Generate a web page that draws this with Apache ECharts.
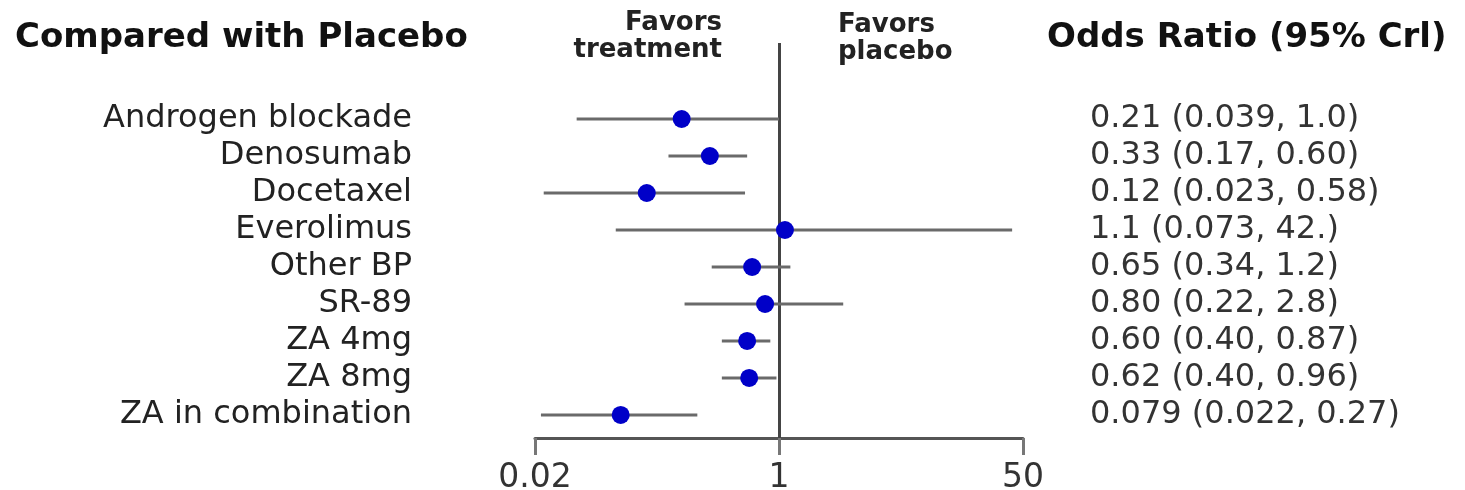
<!DOCTYPE html>
<html>
<head>
<meta charset="utf-8">
<script src="https://cdn.jsdelivr.net/npm/echarts@6/dist/echarts.min.js"></script>
<style>
  html, body { margin: 0; padding: 0; background: #ffffff; }
  #chart { width: 1465px; height: 490px; }
</style>
</head>
<body>
<div id="chart"></div>
<script>
// ---- data ----
const drugs = ['Androgen blockade', 'Denosumab', 'Docetaxel', 'Everolimus', 'Other BP', 'SR-89', 'ZA 4mg', 'ZA 8mg', 'ZA in combination'];
const oddsRatio = [0.21, 0.33, 0.12, 1.1, 0.65, 0.80, 0.60, 0.62, 0.079];
const lowerCrI = [0.039, 0.17, 0.023, 0.073, 0.34, 0.22, 0.40, 0.40, 0.022];
const upperCrI = [1.0, 0.60, 0.58, 42, 1.2, 2.8, 0.87, 0.96, 0.27];
const orText = ['0.21 (0.039, 1.0)', '0.33 (0.17, 0.60)', '0.12 (0.023, 0.58)', '1.1 (0.073, 42.)', '0.65 (0.34, 1.2)', '0.80 (0.22, 2.8)', '0.60 (0.40, 0.87)', '0.62 (0.40, 0.96)', '0.079 (0.022, 0.27)'];
const xTickValues = [0.02, 1, 50];
const leftHeader = 'Compared with Placebo';
const rightHeader = 'Odds Ratio (95% Crl)';
const favorsTreatment = 'Favors\ntreatment';
const favorsPlacebo = 'Favors\nplacebo';

// ---- build ----
const FONT = '"DejaVu Sans", "Liberation Sans", sans-serif';
const rowIdx = drugs.map((d, i) => i);
const xMin = Math.log10(xTickValues[0]);
const xMax = Math.log10(xTickValues[xTickValues.length - 1]);
const yMin = -2.054, yMax = 8.622;

const dotData = oddsRatio.map((v, i) => [Math.log10(v), i]);
const ciData = lowerCrI.map((lo, i) => [Math.log10(lo), Math.log10(upperCrI[i]), i]);

function tickFmt(v) {
  let best = 0, bd = Infinity;
  xTickValues.forEach((t, k) => { const d = Math.abs(Math.log10(t) - v); if (d < bd) { bd = d; best = k; } });
  return String(xTickValues[best]);
}

const chart = echarts.init(document.getElementById('chart'), null, { renderer: 'canvas' });
chart.setOption({
  animation: false,
  backgroundColor: '#ffffff',
  grid: { left: 535, right: 442, top: 43, bottom: 52, containLabel: false, outerBoundsMode: 'none' },
  xAxis: {
    type: 'value', min: xMin, max: xMax,
    axisLine: { show: true, onZero: false, lineStyle: { color: '#555', width: 3 } },
    axisTick: { show: true, length: 17, customValues: xTickValues.map(Math.log10), lineStyle: { color: '#777', width: 3 } },
    axisLabel: {
      show: true, customValues: xTickValues.map(Math.log10), formatter: tickFmt,
      margin: 24, fontSize: 33, fontFamily: FONT, color: '#333',
      showMinLabel: true, showMaxLabel: true
    },
    splitLine: { show: false }
  },
  yAxis: [
    {
      type: 'value', position: 'left', inverse: true, min: yMin, max: yMax,
      axisLine: { show: false }, axisTick: { show: false }, splitLine: { show: false },
      axisLabel: {
        show: true, customValues: rowIdx, formatter: v => drugs[Math.round(v)] || '',
        margin: 123, fontSize: 32, fontFamily: FONT, color: '#222'
      }
    },
    {
      type: 'value', position: 'right', inverse: true, min: yMin, max: yMax,
      axisLine: { show: false }, axisTick: { show: false }, splitLine: { show: false },
      axisLabel: {
        show: true, customValues: rowIdx, formatter: v => orText[Math.round(v)] || '',
        margin: 67, fontSize: 32, fontFamily: FONT, color: '#333'
      }
    }
  ],
  graphic: [
    { type: 'text', x: 15, y: 38, style: { text: leftHeader, fontSize: 34, fontWeight: 'bold', fontFamily: FONT, fill: '#111', align: 'left', verticalAlign: 'middle' } },
    { type: 'text', x: 1047, y: 38, style: { text: rightHeader, fontSize: 34, fontWeight: 'bold', fontFamily: FONT, fill: '#111', align: 'left', verticalAlign: 'middle' } },
    { type: 'text', x: 722, y: 10, style: { text: favorsTreatment, fontSize: 26, lineHeight: 27, fontWeight: 'bold', fontFamily: FONT, fill: '#222', align: 'right', verticalAlign: 'top' } },
    { type: 'text', x: 838, y: 12, style: { text: favorsPlacebo, fontSize: 26, lineHeight: 27, fontWeight: 'bold', fontFamily: FONT, fill: '#222', align: 'left', verticalAlign: 'top' } }
  ],
  series: [
    {
      type: 'custom', xAxisIndex: 0, yAxisIndex: 0, silent: true,
      encode: { x: [0, 1], y: 2 },
      data: ciData,
      renderItem: function (params, api) {
        const a = api.coord([api.value(0), api.value(2)]);
        const b = api.coord([api.value(1), api.value(2)]);
        return { type: 'line', shape: { x1: a[0], y1: a[1], x2: b[0], y2: b[1] }, style: { stroke: '#6a6a6a', lineWidth: 3 } };
      },
      z: 2
    },
    {
      type: 'scatter', xAxisIndex: 0, yAxisIndex: 0, silent: true,
      data: dotData, symbol: 'circle', symbolSize: 18,
      itemStyle: { color: '#0000c8', opacity: 1 },
      markLine: {
        silent: true, symbol: ['none', 'none'], label: { show: false },
        lineStyle: { color: '#444', width: 3, type: 'solid', opacity: 1 },
        data: [{ xAxis: 0 }],
        z: 1
      },
      z: 4
    }
  ]
});
</script>
</body>
</html>
